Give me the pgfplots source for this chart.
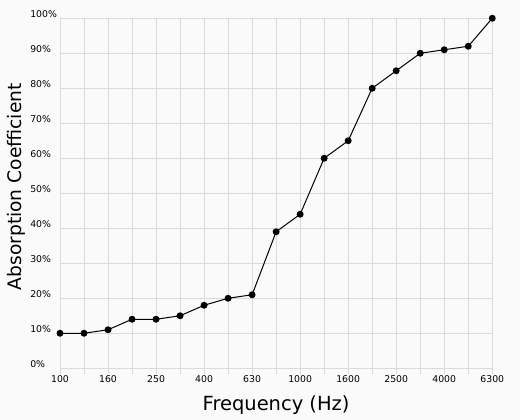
\documentclass[border=0pt]{standalone}
\usepackage{fontspec}
\setmainfont{DejaVu Sans}
\usepackage{pgfplots}
\pgfplotsset{compat=1.18}

\definecolor{bgc}{RGB}{250,250,250}
\definecolor{gridc}{RGB}{218,218,218}

\begin{document}
\begin{tikzpicture}
\useasboundingbox (0,0) rectangle (390pt,315pt);
\fill[bgc] (0,0) rectangle (390pt,315pt);
% 1/3-octave bands plotted at 0..18
\begin{axis}[
    at={(45pt,38.8pt)},
    anchor=south west,
    scale only axis,
    width=324.2pt,
    height=262.5pt,
    xmin=0, xmax=18,
    ymin=0, ymax=100,
    xtick={0,...,18},
    xticklabels={100,,160,,250,,400,,630,,1000,,1600,,2500,,4000,,6300},
    ytick={0,10,...,100},
    yticklabel={\pgfmathprintnumber{\tick}\%},
    /pgf/number format/assume math mode=true,
    axis line style={draw=none},
    grid=major,
    grid style={draw=gridc, line width=0.6pt},
    xtick pos=bottom,
    ytick pos=left,
    tick align=outside,
    major tick length=4.5pt,
    x tick style={draw=gridc, line width=0.6pt},
    y tick style={draw=none},
    tick label style={font=\fontsize{7pt}{8pt}\selectfont, inner sep=0pt},
    xticklabel style={anchor=base, yshift=-6pt},
    yticklabel style={anchor=base west, xshift=-18pt, yshift=0.4pt},
    xlabel={Frequency (Hz)},
    ylabel={Absorption Coefficient},
    xlabel style={font=\fontsize{14.6pt}{16pt}\selectfont, at={(axis description cs:0.5,-0.1219)}, anchor=base, inner sep=0pt},
    ylabel style={font=\fontsize{14pt}{16pt}\selectfont, at={(axis description cs:-0.0885,0.5186)}, anchor=base, inner sep=0pt},
    clip=false,
]
\addplot[black, line width=0.75pt, mark=*, mark size=2.2pt] coordinates {
    (0,10) (1,10) (2,11) (3,14) (4,14) (5,15) (6,18) (7,20) (8,21)
    (9,39) (10,44) (11,60) (12,65) (13,80) (14,85) (15,90) (16,91)
    (17,92) (18,100)
};
\end{axis}
\end{tikzpicture}
\end{document}
